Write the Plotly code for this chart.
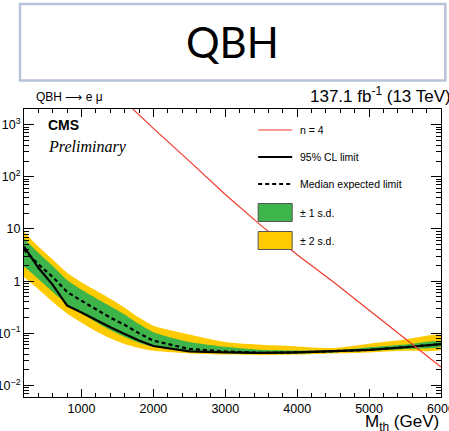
import numpy as np
import plotly.graph_objects as go

# Signal mass points (GeV)
masses = [200, 400, 600, 800, 1000, 1200, 1400, 1600, 1800, 2000,
          2500, 3000, 3500, 4000, 4500, 5000, 5500, 6000]

# 95% CL upper limits on sigma x B (pb)
observed = [4.6, 1.8, 0.85, 0.34, 0.25, 0.18, 0.13, 0.097, 0.073, 0.057,
            0.045, 0.043, 0.042, 0.043, 0.045, 0.048, 0.054, 0.062]
expected = [4.0, 2.1, 1.2, 0.62, 0.42, 0.29, 0.2, 0.145, 0.1, 0.072,
            0.05, 0.045, 0.042, 0.043, 0.045, 0.048, 0.054, 0.062]
band1_lo = [1.9, 1.1, 0.62, 0.36, 0.24, 0.165, 0.115, 0.085, 0.066, 0.055,
            0.045, 0.042, 0.040, 0.041, 0.043, 0.046, 0.050, 0.056]
band1_hi = [6.6, 3.5, 1.95, 1.05, 0.68, 0.47, 0.33, 0.23, 0.15, 0.105,
            0.068, 0.055, 0.048, 0.047, 0.047, 0.054, 0.061, 0.070]
band2_lo = [1.2, 0.7, 0.4, 0.24, 0.16, 0.11, 0.08, 0.062, 0.052, 0.046,
            0.041, 0.039, 0.038, 0.039, 0.041, 0.043, 0.046, 0.049]
band2_hi = [8.9, 4.6, 2.6, 1.45, 0.95, 0.66, 0.46, 0.31, 0.2, 0.14,
            0.095, 0.068, 0.06, 0.056, 0.052, 0.063, 0.076, 0.092]

# Theory prediction, n = 4 extra dimensions
theory_mass = [1500, 2000, 2500, 3000, 3500, 4000, 4500, 5000, 5500, 6000]
theory_xsec = [3800, 850, 200, 46, 11.6, 3.2, 0.97, 0.28, 0.079, 0.0225]

y_tick_vals = [0.01, 0.1, 1, 10, 100, 1000]
y_tick_text = ["10<sup>\u22122</sup>", "10<sup>\u22121</sup>", "1", "10", "10<sup>2</sup>", "10<sup>3</sup>"]
x_tick_vals = [1000, 2000, 3000, 4000, 5000, 6000]

GREEN = "#3db54a"
YELLOW = "#fecb00"
RED = "#f03a2c"
FONT = "Liberation Sans, Arial, sans-serif"

fig = go.Figure()

fig.add_trace(go.Scatter(
    x=masses + masses[::-1], y=band2_hi + band2_lo[::-1],
    fill="toself", fillcolor=YELLOW, line=dict(width=0, shape="spline", smoothing=0.6),
    mode="lines", hoverinfo="skip", showlegend=False))
fig.add_trace(go.Scatter(
    x=masses + masses[::-1], y=band1_hi + band1_lo[::-1],
    fill="toself", fillcolor=GREEN, line=dict(width=0, shape="spline", smoothing=0.6),
    mode="lines", hoverinfo="skip", showlegend=False))
fig.add_trace(go.Scatter(
    x=masses, y=expected, mode="lines",
    line=dict(color="black", width=2.2, dash="4px,3px"), showlegend=False))
fig.add_trace(go.Scatter(
    x=masses, y=observed, mode="lines",
    line=dict(color="black", width=2.2), showlegend=False))
fig.add_trace(go.Scatter(
    x=theory_mass, y=theory_xsec, mode="lines",
    line=dict(color=RED, width=1.2), showlegend=False))

# Plot area in pixels
L, R, T, B = 24, 440.7, 109, 397
W, H = 449, 431


def px(x):
    return (x - L) / (R - L)


def py(y):
    return (B - y) / (B - T)


shapes = []
annotations = []

# Title box
shapes.append(dict(type="rect", xref="paper", yref="paper",
                   x0=px(20), x1=px(445), y0=py(80.5), y1=py(4),
                   line=dict(color="#b7c3d6", width=2.5), fillcolor="white"))
annotations.append(dict(text="QBH", x=px(232), y=py(42), xref="paper", yref="paper",
                        showarrow=False, xanchor="center", yanchor="middle",
                        font=dict(family="Lato, Open Sans, sans-serif", size=42, color="black")))

# Header texts
annotations.append(dict(text="QBH \u27f6 e \u03bc", x=px(34), y=py(97), xref="paper", yref="paper",
                        showarrow=False, xanchor="left", yanchor="middle",
                        font=dict(family=FONT, size=12, color="black")))
annotations.append(dict(text="137.1 fb<sup>-1</sup> (13 TeV)", x=px(453), y=py(95), xref="paper", yref="paper",
                        showarrow=False, xanchor="right", yanchor="middle",
                        font=dict(family=FONT, size=17, color="black")))
annotations.append(dict(text="<b>CMS</b>", x=px(46), y=py(125), xref="paper", yref="paper",
                        showarrow=False, xanchor="left", yanchor="middle",
                        font=dict(family=FONT, size=14, color="black")))
annotations.append(dict(text="<i>Preliminary</i>", x=px(46), y=py(147), xref="paper", yref="paper",
                        showarrow=False, xanchor="left", yanchor="middle",
                        font=dict(family="Liberation Serif, Times New Roman, serif", size=16, color="black")))

# Axis title
annotations.append(dict(text="M<sub>th</sub> (GeV)", x=px(441), y=py(423), xref="paper", yref="paper",
                        showarrow=False, xanchor="right", yanchor="middle",
                        font=dict(family=FONT, size=17, color="black")))

# Legend
lx0, lx1, ltx = 258, 292, 298
rows = [130, 157, 184, 212.5, 240.5]
labels = ["n = 4", "95% CL limit", "Median expected limit", "\u00b1 1 s.d.", "\u00b1 2 s.d."]
shapes.append(dict(type="line", xref="paper", yref="paper", x0=px(lx0), x1=px(lx1),
                   y0=py(rows[0]), y1=py(rows[0]), line=dict(color=RED, width=1.2)))
shapes.append(dict(type="line", xref="paper", yref="paper", x0=px(lx0), x1=px(lx1),
                   y0=py(rows[1]), y1=py(rows[1]), line=dict(color="black", width=2.2)))
shapes.append(dict(type="line", xref="paper", yref="paper", x0=px(lx0), x1=px(lx1),
                   y0=py(rows[2]), y1=py(rows[2]), line=dict(color="black", width=2.2, dash="4px,3px")))
shapes.append(dict(type="rect", xref="paper", yref="paper", x0=px(lx0), x1=px(lx1),
                   y0=py(rows[3] + 9), y1=py(rows[3] - 9), fillcolor=GREEN,
                   line=dict(color="#555555", width=1)))
shapes.append(dict(type="rect", xref="paper", yref="paper", x0=px(lx0), x1=px(lx1),
                   y0=py(rows[4] + 9), y1=py(rows[4] - 9), fillcolor=YELLOW,
                   line=dict(color="#555555", width=1)))
for r, lab in zip(rows, labels):
    annotations.append(dict(text=lab, x=px(ltx), y=py(r), xref="paper", yref="paper",
                            showarrow=False, xanchor="left", yanchor="middle",
                            font=dict(family=FONT, size=10.5, color="black")))

fig.update_layout(
    width=W, height=H,
    margin=dict(l=L, r=W - R, t=T, b=H - B, pad=0, autoexpand=False),
    paper_bgcolor="white", plot_bgcolor="white",
    shapes=shapes, annotations=annotations,
    showlegend=False,
)

fig.update_xaxes(
    range=[200, 6000.5], tickvals=x_tick_vals, automargin=False,
    ticklabeloverflow="allow",
    ticks="inside", ticklen=8, tickcolor="black", tickwidth=1,
    minor=dict(ticks="inside", ticklen=4, dtick=200, tick0=0, tickcolor="black", showgrid=False),
    showline=True, linecolor="black", linewidth=1, mirror="ticks",
    showgrid=False, zeroline=False,
    tickfont=dict(family=FONT, size=12.5, color="black"),
)
fig.update_yaxes(
    type="log", range=[np.log10(0.006), np.log10(2000)], automargin=False,
    ticklabeloverflow="allow",
    tickvals=y_tick_vals, ticktext=y_tick_text,
    ticks="inside", ticklen=10, tickcolor="black", tickwidth=1,
    minor=dict(ticks="inside", ticklen=5, dtick="D1", tickcolor="black", showgrid=False),
    showline=True, linecolor="black", linewidth=1, mirror="ticks",
    showgrid=False, zeroline=False,
    tickfont=dict(family=FONT, size=12.5, color="black"),
)

fig.write_html("out.html")
